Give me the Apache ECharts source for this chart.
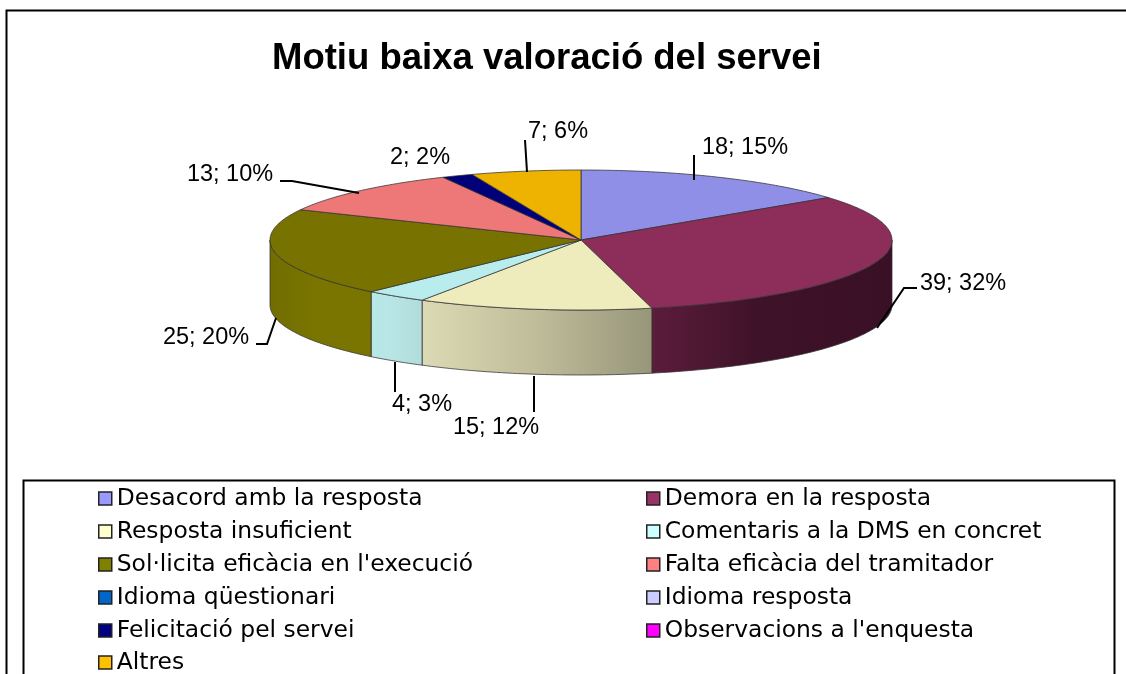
<!DOCTYPE html>
<html>
<head>
<meta charset="utf-8">
<style>
  html, body { margin: 0; background: #fff; }
  #chart { width: 1126px; height: 674px; }
</style>
<script src="https://cdn.jsdelivr.net/npm/echarts@6/dist/echarts.min.js"></script>
</head>
<body>
<div id="chart"></div>
<script>
const title = "Motiu baixa valoració del servei";
const categories = [
  "Desacord amb la resposta", "Demora en la resposta", "Resposta insuficient",
  "Comentaris a la DMS en concret", "Sol·licita eficàcia en l'execució",
  "Falta eficàcia del tramitador", "Idioma qüestionari", "Idioma resposta",
  "Felicitació pel servei", "Observacions a l'enquesta", "Altres"
];
const values = [18, 39, 15, 4, 25, 13, 0, 0, 2, 0, 7];
const percents = [15, 32, 12, 3, 20, 10, 0, 0, 2, 0, 6];

const legendColors = ["#9999ff", "#993366", "#ffffcc", "#ccffff", "#808000", "#ff8080",
  "#0066cc", "#ccccff", "#000080", "#ff00ff", "#ffc000"];
const topColors = ["#8f8fe8", "#8c2d5a", "#eeecbc", "#b9ecec", "#787300", "#ee7777",
  "#0060c0", "#c0c0f0", "#000078", "#f000f0", "#eeb200"];
// wall shade, left to right
const wallColors = [
  ["#8f8fe8", "#8f8fe8", "#8f8fe8"], ["#5c1c3c", "#3e1228", "#3a1026"], ["#dcdab4", "#c2c09c", "#98967a"],
  ["#b9e8e8", "#b8e4e4", "#b2dcdc"], ["#716d00", "#7a7500", "#7a7500"], ["#ee7777", "#ee7777", "#ee7777"],
  ["#0060c0", "#0060c0", "#0060c0"], ["#c0c0f0", "#c0c0f0", "#c0c0f0"], ["#000078", "#000078", "#000078"],
  ["#f000f0", "#f000f0", "#f000f0"], ["#eeb200", "#eeb200", "#eeb200"]
];

// pie layout
const cx = 581, cy = 240, rx = 311, ry = 70, depth = 65;
const total = values.reduce((a, b) => a + b, 0);
const fontFamily = "'Liberation Sans', Arial, sans-serif";
const labelFont = "23.5px " + fontFamily;

// label centres and leader lines, by category index
const labelPos = {
  0: [745, 148], 1: [963, 284], 2: [496, 428], 3: [422, 405],
  4: [206, 338], 5: [230, 175], 8: [420, 158], 10: [558, 132]
};
const leaders = {
  0: [[694, 180], [694, 155]],
  1: [[877, 328], [904, 288], [917, 288]],
  2: [[534, 376], [534, 412]],
  3: [[395, 362], [395, 392]],
  4: [[276, 318], [267, 344], [256, 344]],
  5: [[359, 193], [292, 181], [280, 181]],
  10: [[527, 172], [525, 140]]
};

function rimPoint(deg, dy) {
  const t = deg * Math.PI / 180;
  return [cx + rx * Math.sin(t), cy - ry * Math.cos(t) + (dy || 0)];
}

function arcPoints(from, to, dy) {
  const pts = [];
  const steps = Math.max(2, Math.ceil(Math.abs(to - from)));
  for (let i = 0; i <= steps; i++) pts.push(rimPoint(from + (to - from) * i / steps, dy));
  return pts;
}

function renderSlice(idx) {
  const before = values.slice(0, idx).reduce((a, b) => a + b, 0);
  return function (params, api) {
    const v = api.value(0);
    const children = [];
    const lineColor = "rgba(50,50,50,0.75)";
    if (v > 0) {
      const a0 = before / total * 360;
      const a1 = (before + v) / total * 360;
      // only the front half of the rim has a visible wall
      const w0 = Math.max(a0, 90), w1 = Math.min(a1, 270);
      if (w1 > w0) {
        const x0 = rimPoint(w0)[0], x1 = rimPoint(w1)[0];
        children.push({
          type: "polygon",
          z2: 1,
          shape: { points: arcPoints(w0, w1, 0).concat(arcPoints(w1, w0, depth)) },
          style: {
            fill: new echarts.graphic.LinearGradient(Math.min(x0, x1), 0, Math.max(x0, x1), 0, [
              { offset: 0, color: wallColors[idx][0] },
              { offset: 0.45, color: wallColors[idx][1] },
              { offset: 1, color: wallColors[idx][2] }
            ], true),
            stroke: lineColor,
            lineWidth: 1
          }
        });
      }
      children.push({
        type: "polygon",
        z2: 2,
        shape: { points: [[cx, cy]].concat(arcPoints(a0, a1, 0)) },
        style: { fill: topColors[idx], stroke: lineColor, lineWidth: 1 }
      });
      if (leaders[idx]) {
        children.push({
          type: "polyline",
          z2: 3,
          shape: { points: leaders[idx] },
          style: { fill: null, stroke: "#000", lineWidth: 2 }
        });
      }
      children.push({
        type: "text",
        z2: 4,
        style: {
          text: v + "; " + percents[idx] + "%",
          x: labelPos[idx][0],
          y: labelPos[idx][1],
          align: "center",
          verticalAlign: "middle",
          font: labelFont,
          fill: "#000"
        }
      });
    }
    return { type: "group", children: children };
  };
}

const series = categories.map((name, i) => ({
  type: "custom",
  name: name,
  coordinateSystem: "none",
  itemStyle: { color: legendColors[i] },
  data: [[values[i]]],
  renderItem: renderSlice(i),
  silent: true
}));

const legendBase = {
  orient: "vertical",
  itemWidth: 13,
  itemHeight: 13,
  itemGap: 10,
  selectedMode: false,
  icon: "rect",
  itemStyle: { borderColor: "#222", borderWidth: 1.5 },
  textStyle: { fontFamily: "'DejaVu Sans', sans-serif", fontSize: 23.4, color: "#000", lineHeight: 22 }
};

const chart = echarts.init(document.getElementById("chart"), null, { renderer: "canvas" });
chart.setOption({
  animation: false,
  backgroundColor: "#fff",
  color: legendColors,
  title: {
    text: title,
    left: 267,
    top: 35,
    textStyle: { fontFamily: fontFamily, fontSize: 36.5, fontWeight: "bold", color: "#000" }
  },
  legend: [
    // the last row would wrap at the window edge, so it gets its own legend
    Object.assign({}, legendBase, { left: 93, top: 482, data: categories.filter((c, i) => i % 2 === 0 && i < 10) }),
    Object.assign({}, legendBase, { left: 641, top: 482, data: categories.filter((c, i) => i % 2 === 1) }),
    Object.assign({}, legendBase, { left: 93, top: 646, data: categories.slice(10) })
  ],
  graphic: [
    { type: "rect", z: -1, shape: { x: 6.5, y: 10.5, width: 1140, height: 680 },
      style: { fill: "#fff", stroke: "#000", lineWidth: 2 } },
    { type: "rect", z: -1, shape: { x: 23.5, y: 480.5, width: 1091, height: 210 },
      style: { fill: "#fff", stroke: "#000", lineWidth: 2 } }
  ],
  series: series
});
</script>
</body>
</html>
